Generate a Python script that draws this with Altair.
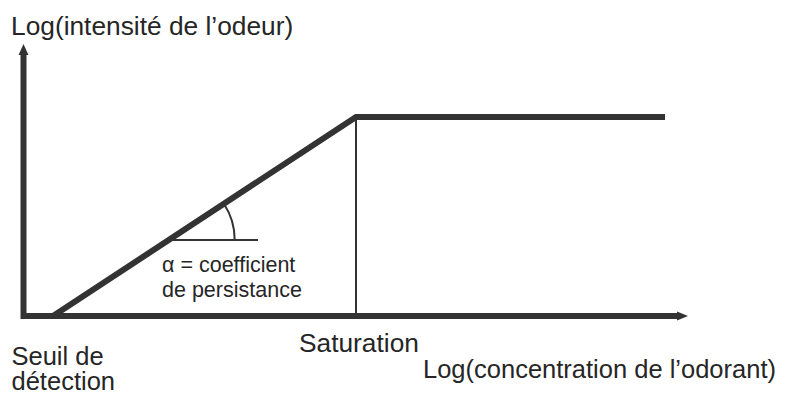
import math
import altair as alt
import pandas as pd

# ---- schematic values (x = log concentration, y = log intensity, same unit on both) ----
x_axis_end = 66.45          # arrow tip of the concentration axis
y_axis_end = 27.2           # arrow tip of the intensity axis
curve_x = [2.95, 33.25, 64.15]   # seuil de détection, saturation, end of plateau
curve_y = [0.0, 19.9, 19.9]
angle_y = 7.6               # level of the horizontal reference for alpha
angle_x_end = 23.45
arc_r_units = 6.6

labels = ["Log(intensité de l’odeur)", "Seuil de", "détection", "Saturation",
          "Log(concentration de l’odorant)", "α = coefficient", "de persistance"]
label_x = [-1.25, -1.2, -1.2, 27.55, 39.95, 13.85, 13.85]
label_y = [28.1, -4.85, -7.4, -3.6, -6.2, 4.4, 1.9]
label_size = [26.3, 25.5, 25.5, 26.3, 25.5, 21.5, 21.5]

X_DOM = [-1.55, 75.75]
Y_DOM = [-8.0, 30.8]
W, H = 773, 388
INK = "#333333"
TXT = "#262626"

xs = alt.Scale(domain=X_DOM, nice=False, zero=False)
ys = alt.Scale(domain=Y_DOM, nice=False, zero=False)

# thick polylines: axes (L shape) and the response curve
head = 0.8
thick = pd.DataFrame({
    "g": ["axes"] * 3 + ["curve"] * 3,
    "o": [0, 1, 2, 0, 1, 2],
    "x": [0, 0, x_axis_end - head] + curve_x,
    "y": [y_axis_end - head, 0, 0] + curve_y,
})
slope = (curve_y[1] - curve_y[0]) / (curve_x[1] - curve_x[0])
vx = curve_x[0] + (angle_y - curve_y[0]) / slope
thin = pd.DataFrame({
    "g": ["sat", "sat", "ref", "ref"],
    "o": [0, 1, 0, 1],
    "x": [curve_x[1], curve_x[1], vx, angle_x_end],
    "y": [curve_y[1], 0, angle_y, angle_y],
})

enc = dict(x=alt.X("x:Q", scale=xs, axis=None), y=alt.Y("y:Q", scale=ys, axis=None))

thick_l = alt.Chart(thick).mark_line(color=INK, strokeWidth=6, strokeJoin="miter",
                                     strokeCap="butt").encode(
    detail="g:N", order="o:Q", **enc)
thin_l = alt.Chart(thin).mark_line(color=INK, strokeWidth=2).encode(
    detail="g:N", order="o:Q", **enc)

ang = math.atan2(curve_y[1] - curve_y[0], curve_x[1] - curve_x[0])
px_per_unit = W / (X_DOM[1] - X_DOM[0])
r = arc_r_units * px_per_unit
arc = alt.Chart(pd.DataFrame({"x": [vx], "y": [angle_y]})).mark_arc(
    theta=math.pi / 2 - ang, theta2=math.pi / 2, radius=r + 1, radius2=r - 1,
    color=INK).encode(**enc)

up = alt.Chart(pd.DataFrame({"x": [0], "y": [y_axis_end]})).mark_point(
    shape="M0,0L0.45,1L-0.45,1Z", size=484, filled=True, opacity=1,
    color=INK, strokeWidth=0).encode(**enc)
right = alt.Chart(pd.DataFrame({"x": [x_axis_end], "y": [0]})).mark_point(
    shape="M0,0L-1,-0.42L-1,0.42Z", size=484, filled=True, opacity=1,
    color=INK, strokeWidth=0).encode(**enc)

txt = pd.DataFrame({"t": labels, "x": label_x, "y": label_y, "s": label_size})
text = alt.Chart(txt).mark_text(
    align="left", baseline="alphabetic", font="Liberation Sans",
    color=TXT).encode(text="t:N", size=alt.Size("s:Q", scale=None), **enc)

chart = alt.layer(thin_l, arc, thick_l, up, right, text).properties(
    width=W, height=H, padding=0, autosize=alt.AutoSizeParams(type="none"),
    background="white",
).configure_view(stroke=None)

chart.save("out.html", embed_options={"renderer": "svg", "actions": False})
